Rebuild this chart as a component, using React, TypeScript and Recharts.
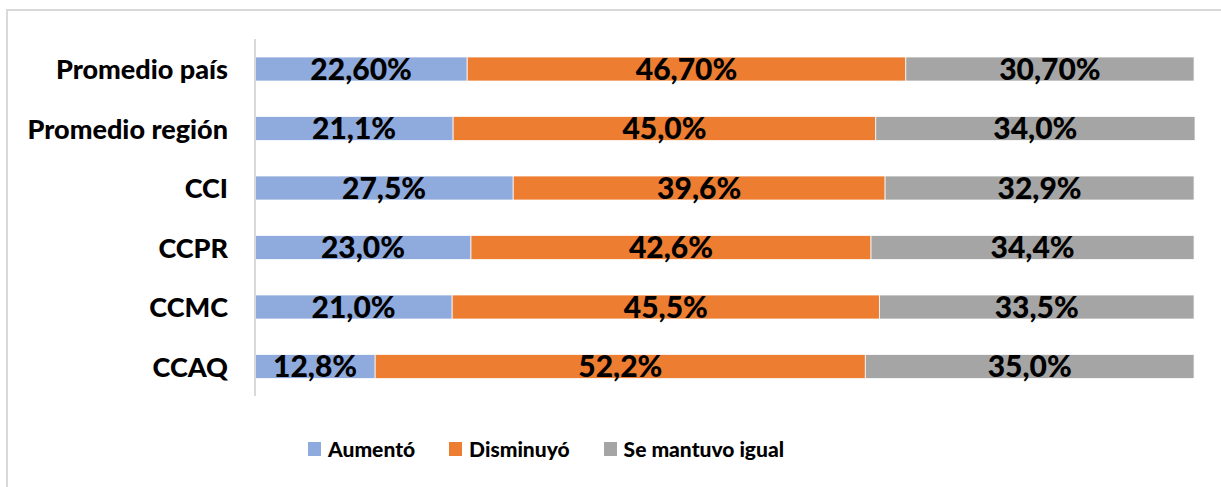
import React from "react";
import { BarChart, Bar, XAxis, YAxis, LabelList, Legend } from "recharts";

const categories = ["Promedio país", "Promedio región", "CCI", "CCPR", "CCMC", "CCAQ"];
const aumento = [22.6, 21.1, 27.5, 23.0, 21.0, 12.8];
const disminuyo = [46.7, 45.0, 39.6, 42.6, 45.5, 52.2];
const igual = [30.7, 34.0, 32.9, 34.4, 33.5, 35.0];
const aumentoLabels = ["22,60%", "21,1%", "27,5%", "23,0%", "21,0%", "12,8%"];
const disminuyoLabels = ["46,70%", "45,0%", "39,6%", "42,6%", "45,5%", "52,2%"];
const igualLabels = ["30,70%", "34,0%", "32,9%", "34,4%", "33,5%", "35,0%"];

const seriesNames = ["Aumentó", "Disminuyó", "Se mantuvo igual"];
const colors = ["#8FAADC", "#ED7D31", "#A5A5A5"];

const data = categories.map((c, i) => ({
  name: c,
  a: aumento[i],
  d: disminuyo[i],
  s: igual[i],
  aL: aumentoLabels[i],
  dL: disminuyoLabels[i],
  sL: igualLabels[i],
}));

const FONT = "Lato, 'Open Sans', sans-serif";

const CatTick = (props: any) => {
  const { x, y, payload } = props;
  return (
    <text
      x={x - 19}
      y={y}
      textAnchor="end"
      dominantBaseline="central"
      fontFamily={FONT}
      fontWeight={900}
      fontSize={27}
      fill="#000"
    >
      {payload.value}
    </text>
  );
};

const LegendContent = () => (
  <div style={{ display: "flex", alignItems: "center", fontFamily: FONT, fontWeight: 900, fontSize: 21, color: "#000" }}>
    {seriesNames.map((n, i) => (
      <div key={n} style={{ display: "flex", alignItems: "center", marginRight: i < 2 ? 34 : 0 }}>
        <div style={{ width: 13, height: 14, background: colors[i], marginRight: 7 }} />
        <span>{n}</span>
      </div>
    ))}
  </div>
);

const labelStyle = { fontFamily: FONT, fontWeight: 900, fontSize: 30, fill: "#000" } as any;

export default function App() {
  return (
    <div style={{ position: "absolute", left: 0, top: 0, width: 1221, height: 487, background: "#fff", overflow: "hidden" }}>
      <div
        style={{
          position: "absolute",
          left: 6,
          top: 9,
          width: 1300,
          height: 600,
          border: "2px solid #D9D9D9",
          boxSizing: "border-box",
        }}
      />
      <div style={{ position: "absolute", left: 0, top: 0 }}>
        <BarChart
          width={1221}
          height={487}
          data={data}
          layout="vertical"
          margin={{ top: 39, right: 26, left: 0, bottom: 91 }}
          barSize={24}
        >
          <XAxis type="number" domain={[0, 100]} hide />
          <YAxis
            type="category"
            dataKey="name"
            width={255}
            tick={<CatTick />}
            tickLine={false}
            axisLine={{ stroke: "#D9D9D9", strokeWidth: 2 }}
          />
          <Legend
            layout="horizontal"
            verticalAlign="middle"
            align="center"
            content={<LegendContent />}
            wrapperStyle={{ position: "absolute", left: 308, top: 436, width: 600 }}
          />
          <Bar dataKey="a" name={seriesNames[0]} stackId="x" fill={colors[0]} stroke="#fff" strokeWidth={0.75} isAnimationActive={false}>
            <LabelList dataKey="aL" position="center" style={labelStyle} />
          </Bar>
          <Bar dataKey="d" name={seriesNames[1]} stackId="x" fill={colors[1]} stroke="#fff" strokeWidth={0.75} isAnimationActive={false}>
            <LabelList dataKey="dL" position="center" style={labelStyle} />
          </Bar>
          <Bar dataKey="s" name={seriesNames[2]} stackId="x" fill={colors[2]} stroke="#fff" strokeWidth={0.75} isAnimationActive={false}>
            <LabelList dataKey="sL" position="center" style={labelStyle} />
          </Bar>
        </BarChart>
      </div>
    </div>
  );
}
